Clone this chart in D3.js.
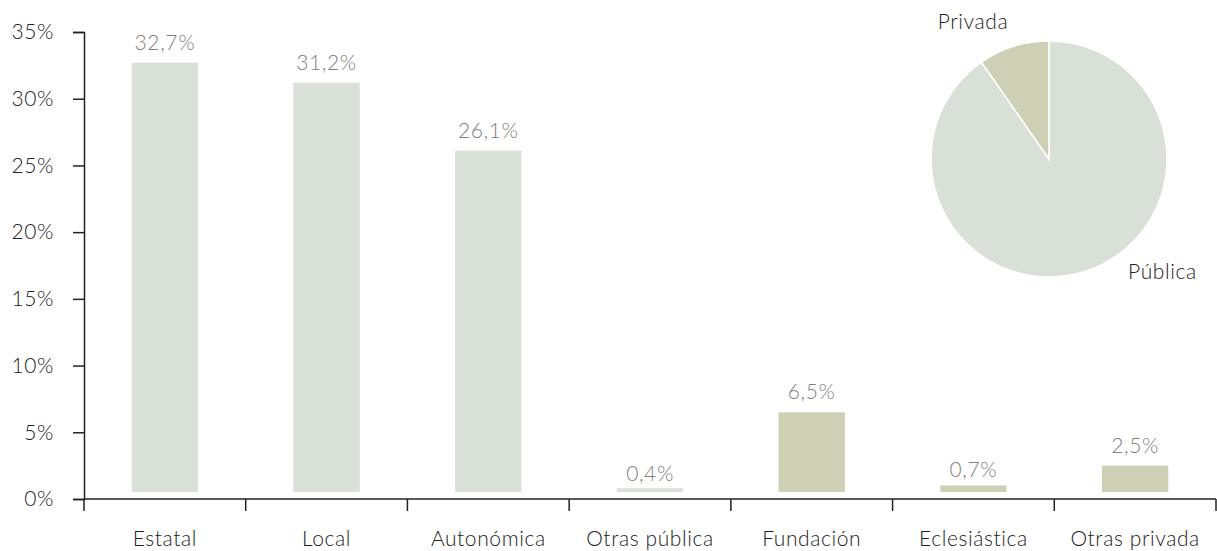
<!DOCTYPE html>
<html>
<head>
<meta charset="utf-8">
<script src="https://cdn.jsdelivr.net/npm/d3@7"></script>
<style>
  body { margin: 0; background: #fff; }
  svg { font-family: Lato, "Open Sans", sans-serif; font-weight: 300; letter-spacing: 0.6px; }
  .axis path, .axis line { stroke: #222; stroke-width: 1.5; }
  .axis text { font-size: 21px; fill: #222; font-family: Lato, sans-serif; }
</style>
</head>
<body>
<svg id="chart"></svg>
<script>
var width = 1217,
    height = 551;

// data
var categories = ["Estatal", "Local", "Autonómica", "Otras pública", "Fundación", "Eclesiástica", "Otras privada"];
var values = [32.7, 31.2, 26.1, 0.4, 6.5, 0.7, 2.5];
var sectors = ["Pública", "Pública", "Pública", "Pública", "Privada", "Privada", "Privada"];
var yTicks = [0, 5, 10, 15, 20, 25, 30, 35];
var pieOrder = ["Pública", "Privada"];

var colors = { "Pública": "#d9e0d8", "Privada": "#cdd0b4" };

var es = d3.formatLocale({ decimal: ",", thousands: ".", grouping: [3], currency: ["", "€"] });
var fmt = es.format(".1f");

var svg = d3.select("#chart")
    .attr("width", width)
    .attr("height", height);

var x = d3.scaleBand()
    .domain(categories)
    .range([84, 1216])
    .padding(0);

var y = d3.scaleLinear()
    .domain([0, 35])
    .range([499, 32]);

var data = categories.map(function(c, i) {
    return { cat: c, value: values[i], sector: sectors[i] };
});

// y axis
svg.append("g")
    .attr("class", "axis")
    .attr("transform", "translate(84,0)")
    .call(d3.axisLeft(y).tickValues(yTicks).tickSize(11).tickPadding(19)
        .tickFormat(function(d) { return d + "%"; }));

// x axis: ticks at band edges, labels in the middle
var xa = svg.append("g").attr("class", "axis");
xa.append("line")
    .attr("x1", x.range()[0]).attr("x2", x.range()[1])
    .attr("y1", y(0)).attr("y2", y(0));
xa.selectAll(".edge")
    .data(categories.map(function(c) { return x(c); }).concat([x.range()[1]]))
    .enter().append("line")
    .attr("class", "edge")
    .attr("x1", function(d) { return d; }).attr("x2", function(d) { return d; })
    .attr("y1", y(0)).attr("y2", y(0) + 12);
xa.selectAll(".lbl")
    .data(categories)
    .enter().append("text")
    .attr("class", "lbl")
    .attr("x", function(d) { return x(d) + x.bandwidth() / 2; })
    .attr("y", y(0) + 47)
    .attr("text-anchor", "middle")
    .text(function(d) { return d; });

// bars
var bw = x.bandwidth() * 0.41;
var base = y(0) - 7;

svg.append("g").selectAll("rect")
    .data(data)
    .enter().append("rect")
    .attr("x", function(d) { return x(d.cat) + (x.bandwidth() - bw) / 2; })
    .attr("width", bw)
    .attr("y", function(d) {
        var h = y(0) - y(d.value);
        return base - Math.max(h - 7, h * 0.7);
    })
    .attr("height", function(d) {
        var h = y(0) - y(d.value);
        return Math.max(h - 7, h * 0.7);
    })
    .attr("fill", function(d) { return colors[d.sector]; });

svg.append("g").selectAll("text")
    .data(data)
    .enter().append("text")
    .attr("x", function(d) { return x(d.cat) + x.bandwidth() / 2; })
    .attr("y", function(d) { return y(d.value) - 13; })
    .attr("text-anchor", "middle")
    .style("font-size", "21px")
    .style("fill", "#808080")
    .text(function(d) { return fmt(d.value) + "%"; });

// pie of public vs private
var totals = d3.rollup(data, function(v) { return d3.sum(v, function(d) { return d.value; }); }, function(d) { return d.sector; });
var pieData = pieOrder.map(function(s) { return { sector: s, value: totals.get(s) }; });

var r = 118;
var pie = d3.pie().sort(null).value(function(d) { return d.value; });
var arc = d3.arc().innerRadius(0).outerRadius(r);

var gp = svg.append("g").attr("transform", "translate(1049,159)");
var arcs = pie(pieData);

gp.selectAll("path")
    .data(arcs)
    .enter().append("path")
    .attr("d", arc)
    .attr("fill", function(d) { return colors[d.data.sector]; })
    .style("stroke", "#fff")
    .style("stroke-width", 1.5);

// labels outside the pie
gp.selectAll("text")
    .data(arcs)
    .enter().append("text")
    .attr("transform", function(d) {
        var a = d.data.sector == "Privada" ? (d.startAngle + d.endAngle) / 2 : Math.PI * 0.815;
        var lr = d.data.sector == "Privada" ? 136 : 144;
        return "translate(" + (lr * Math.sin(a)) + "," + (-lr * Math.cos(a)) + ")";
    })
    .attr("text-anchor", function(d) { return d.data.sector == "Privada" ? "end" : "start"; })
    .style("font-size", "21px")
    .style("fill", "#222")
    .text(function(d) { return d.data.sector; });
</script>
</body>
</html>
